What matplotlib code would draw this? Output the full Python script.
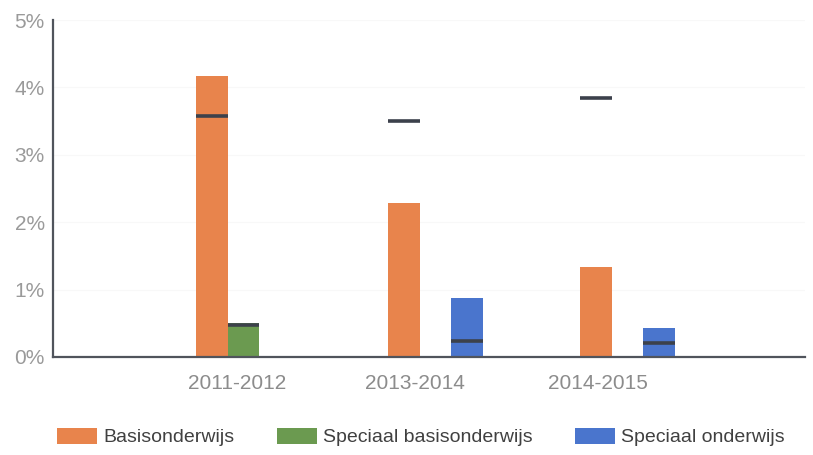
import matplotlib
matplotlib.use("Agg")
import matplotlib.pyplot as plt
from matplotlib.patches import Patch
import numpy as np

plt.rcParams['font.family'] = ['Liberation Sans', 'DejaVu Sans']

# Schooljaren en percentages per onderwijstype
years = ["2011-2012", "2013-2014", "2014-2015"]
series_names = ["Basisonderwijs", "Speciaal basisonderwijs", "Speciaal onderwijs"]
basis = [4.17, 2.28, 1.34]
speciaal_basis = [0.50, None, None]
speciaal = [None, 0.88, 0.43]

# Referentiewaarden (donkere streepjes)
ref_basis = [3.58, 3.50, 3.84]
ref_speciaal_basis = [0.47, None, None]
ref_speciaal = [None, 0.23, 0.21]

y_ticks = [0, 1, 2, 3, 4, 5]
y_ticklabels = ["0%", "1%", "2%", "3%", "4%", "5%"]

colors = ["#E8844C", "#6B9A50", "#4A75CD"]
ref_color = "#3C414B"

fig = plt.figure(figsize=(8.13, 4.55), dpi=100)
ax = fig.add_axes([53 / 813, 1 - 357 / 455, (805 - 53) / 813, (357 - 20) / 455])

x = np.arange(len(years))
w = 0.165
offsets = [-w, 0.0, w]
values = [basis, speciaal_basis, speciaal]
refs = [ref_basis, ref_speciaal_basis, ref_speciaal]

for k, (vals, rv) in enumerate(zip(values, refs)):
    for i in range(len(years)):
        xc = x[i] + offsets[k]
        if vals[i] is not None:
            ax.bar(xc, vals[i], width=w, color=colors[k], linewidth=0, zorder=2)
        if rv[i] is not None:
            ax.hlines(rv[i], xc - w / 2, xc + w / 2, colors=ref_color,
                      linewidth=2.6, zorder=3)

ax.set_xlim(-0.993, 2.924)
ax.set_ylim(0, 5)

ax.set_yticks(y_ticks)
ax.set_yticklabels(y_ticklabels, color="#9A9A9A", fontsize=15)
label_shift = [-0.035, -0.108, -0.155]
ax.set_xticks(x + np.array(label_shift))
ax.set_xticklabels(years, color="#8C8C8C", fontsize=15)
ax.tick_params(axis="both", length=0)
ax.tick_params(axis="y", pad=6)
ax.tick_params(axis="x", pad=12)

ax.yaxis.grid(True, color="#F8F8F8", linewidth=0.8, zorder=0)
ax.set_axisbelow(True)

for side in ["top", "right"]:
    ax.spines[side].set_visible(False)
for side in ["left", "bottom"]:
    ax.spines[side].set_color("#50545C")
    ax.spines[side].set_linewidth(1.6)

handles = [Patch(facecolor=c, edgecolor="none") for c in colors]
fig.legend(handles, series_names, loc="center", ncol=3,
           bbox_to_anchor=(421 / 813, 1 - 437 / 455), frameon=False,
           fontsize=14, handlelength=2.06, handleheight=0.88,
           handletextpad=0.3, columnspacing=2.2, labelcolor="#404040")

fig.savefig("out.png", dpi=100, facecolor="white")
